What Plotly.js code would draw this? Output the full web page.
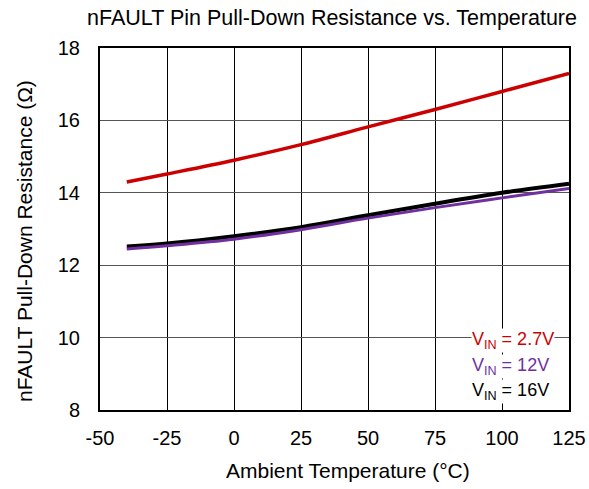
<!DOCTYPE html>
<html><head><meta charset="utf-8">
<script src="https://cdn.plot.ly/plotly-3.0.1.min.js"></script>
<style>body{margin:0;background:#fff}#c{width:589px;height:489px}</style>
</head><body><div id="c"></div>
<script>
const temps = [-40, -25, 0, 25, 50, 75, 100, 125];
const r27 = [14.3, 14.52, 14.9, 15.33, 15.82, 16.3, 16.8, 17.3];
const r12 = [12.45, 12.54, 12.72, 12.98, 13.3, 13.59, 13.86, 14.12];
const r16 = [12.52, 12.6, 12.8, 13.05, 13.38, 13.7, 14.0, 14.25];
const xTicks = [-50, -25, 0, 25, 50, 75, 100, 125];
const yTicks = [8, 10, 12, 14, 16, 18];
const names = ['V<sub>IN</sub> = 2.7V', 'V<sub>IN</sub> = 12V', 'V<sub>IN</sub> = 16V'];
const colors = ['#cc0000', '#7030a0', '#000000'];

const font = {family: 'Arial, "Liberation Sans", sans-serif', color: '#000'};
const traces = [
  {x: temps, y: r16, mode: 'lines', line: {color: colors[2], width: 4, shape: 'spline'}, name: names[2]},
  {x: temps, y: r12, mode: 'lines', line: {color: colors[1], width: 3, shape: 'spline'}, name: names[1]},
  {x: temps, y: r27, mode: 'lines', line: {color: colors[0], width: 3.5, shape: 'spline'}, name: names[0]}
];
const ann = names.map((n, i) => ({
  xref: 'x', yref: 'y', x: 88.4, y: [9.93, 9.19, 8.5][i],
  xanchor: 'left', yanchor: 'middle', text: n, showarrow: false,
  font: Object.assign({}, font, {size: 18, color: colors[i]}),
  bgcolor: '#ffffff', borderpad: 0
}));
ann.push({xref: 'paper', yref: 'paper', x: (348 - 100) / 469, y: -(470 - 410) / 362, xanchor: 'center', yanchor: 'middle',
  text: 'Ambient Temperature (°C)', showarrow: false, font: Object.assign({}, font, {size: 21})});
ann.push({xref: 'paper', yref: 'paper', x: -(100 - 24) / 469, y: (410 - 241) / 362, xanchor: 'center', yanchor: 'middle',
  textangle: -90, text: 'nFAULT Pull-Down Resistance (Ω)', showarrow: false, font: Object.assign({}, font, {size: 21})});
const layout = {
  width: 589, height: 489,
  margin: {l: 100, r: 20, t: 48, b: 79},
  paper_bgcolor: '#fff', plot_bgcolor: '#fff',
  showlegend: false,
  font: font,
  title: {text: 'nFAULT Pin Pull-Down Resistance vs. Temperature', x: 332 / 589, xanchor: 'center', y: 1 - 17 / 489, yanchor: 'middle', font: Object.assign({}, font, {size: 21.5})},
  xaxis: {range: [-50, 125], tickvals: xTicks, ticktext: xTicks.map(String), showgrid: true, gridcolor: '#000', gridwidth: 1,
    zeroline: false, showline: true, linecolor: '#000', linewidth: 2, mirror: true, ticks: '', ticklabelstandoff: 9,
    tickfont: Object.assign({}, font, {size: 20})},
  yaxis: {range: [8, 18], tickvals: yTicks, ticktext: yTicks.map(String), showgrid: true, gridcolor: '#555', gridwidth: 1,
    zeroline: false, showline: true, linecolor: '#000', linewidth: 2, mirror: true, ticks: '', ticklabelstandoff: 14,
    tickfont: Object.assign({}, font, {size: 20})},
  annotations: ann
};
Plotly.newPlot('c', traces, layout, {displayModeBar: false, staticPlot: true});
</script></body></html>
